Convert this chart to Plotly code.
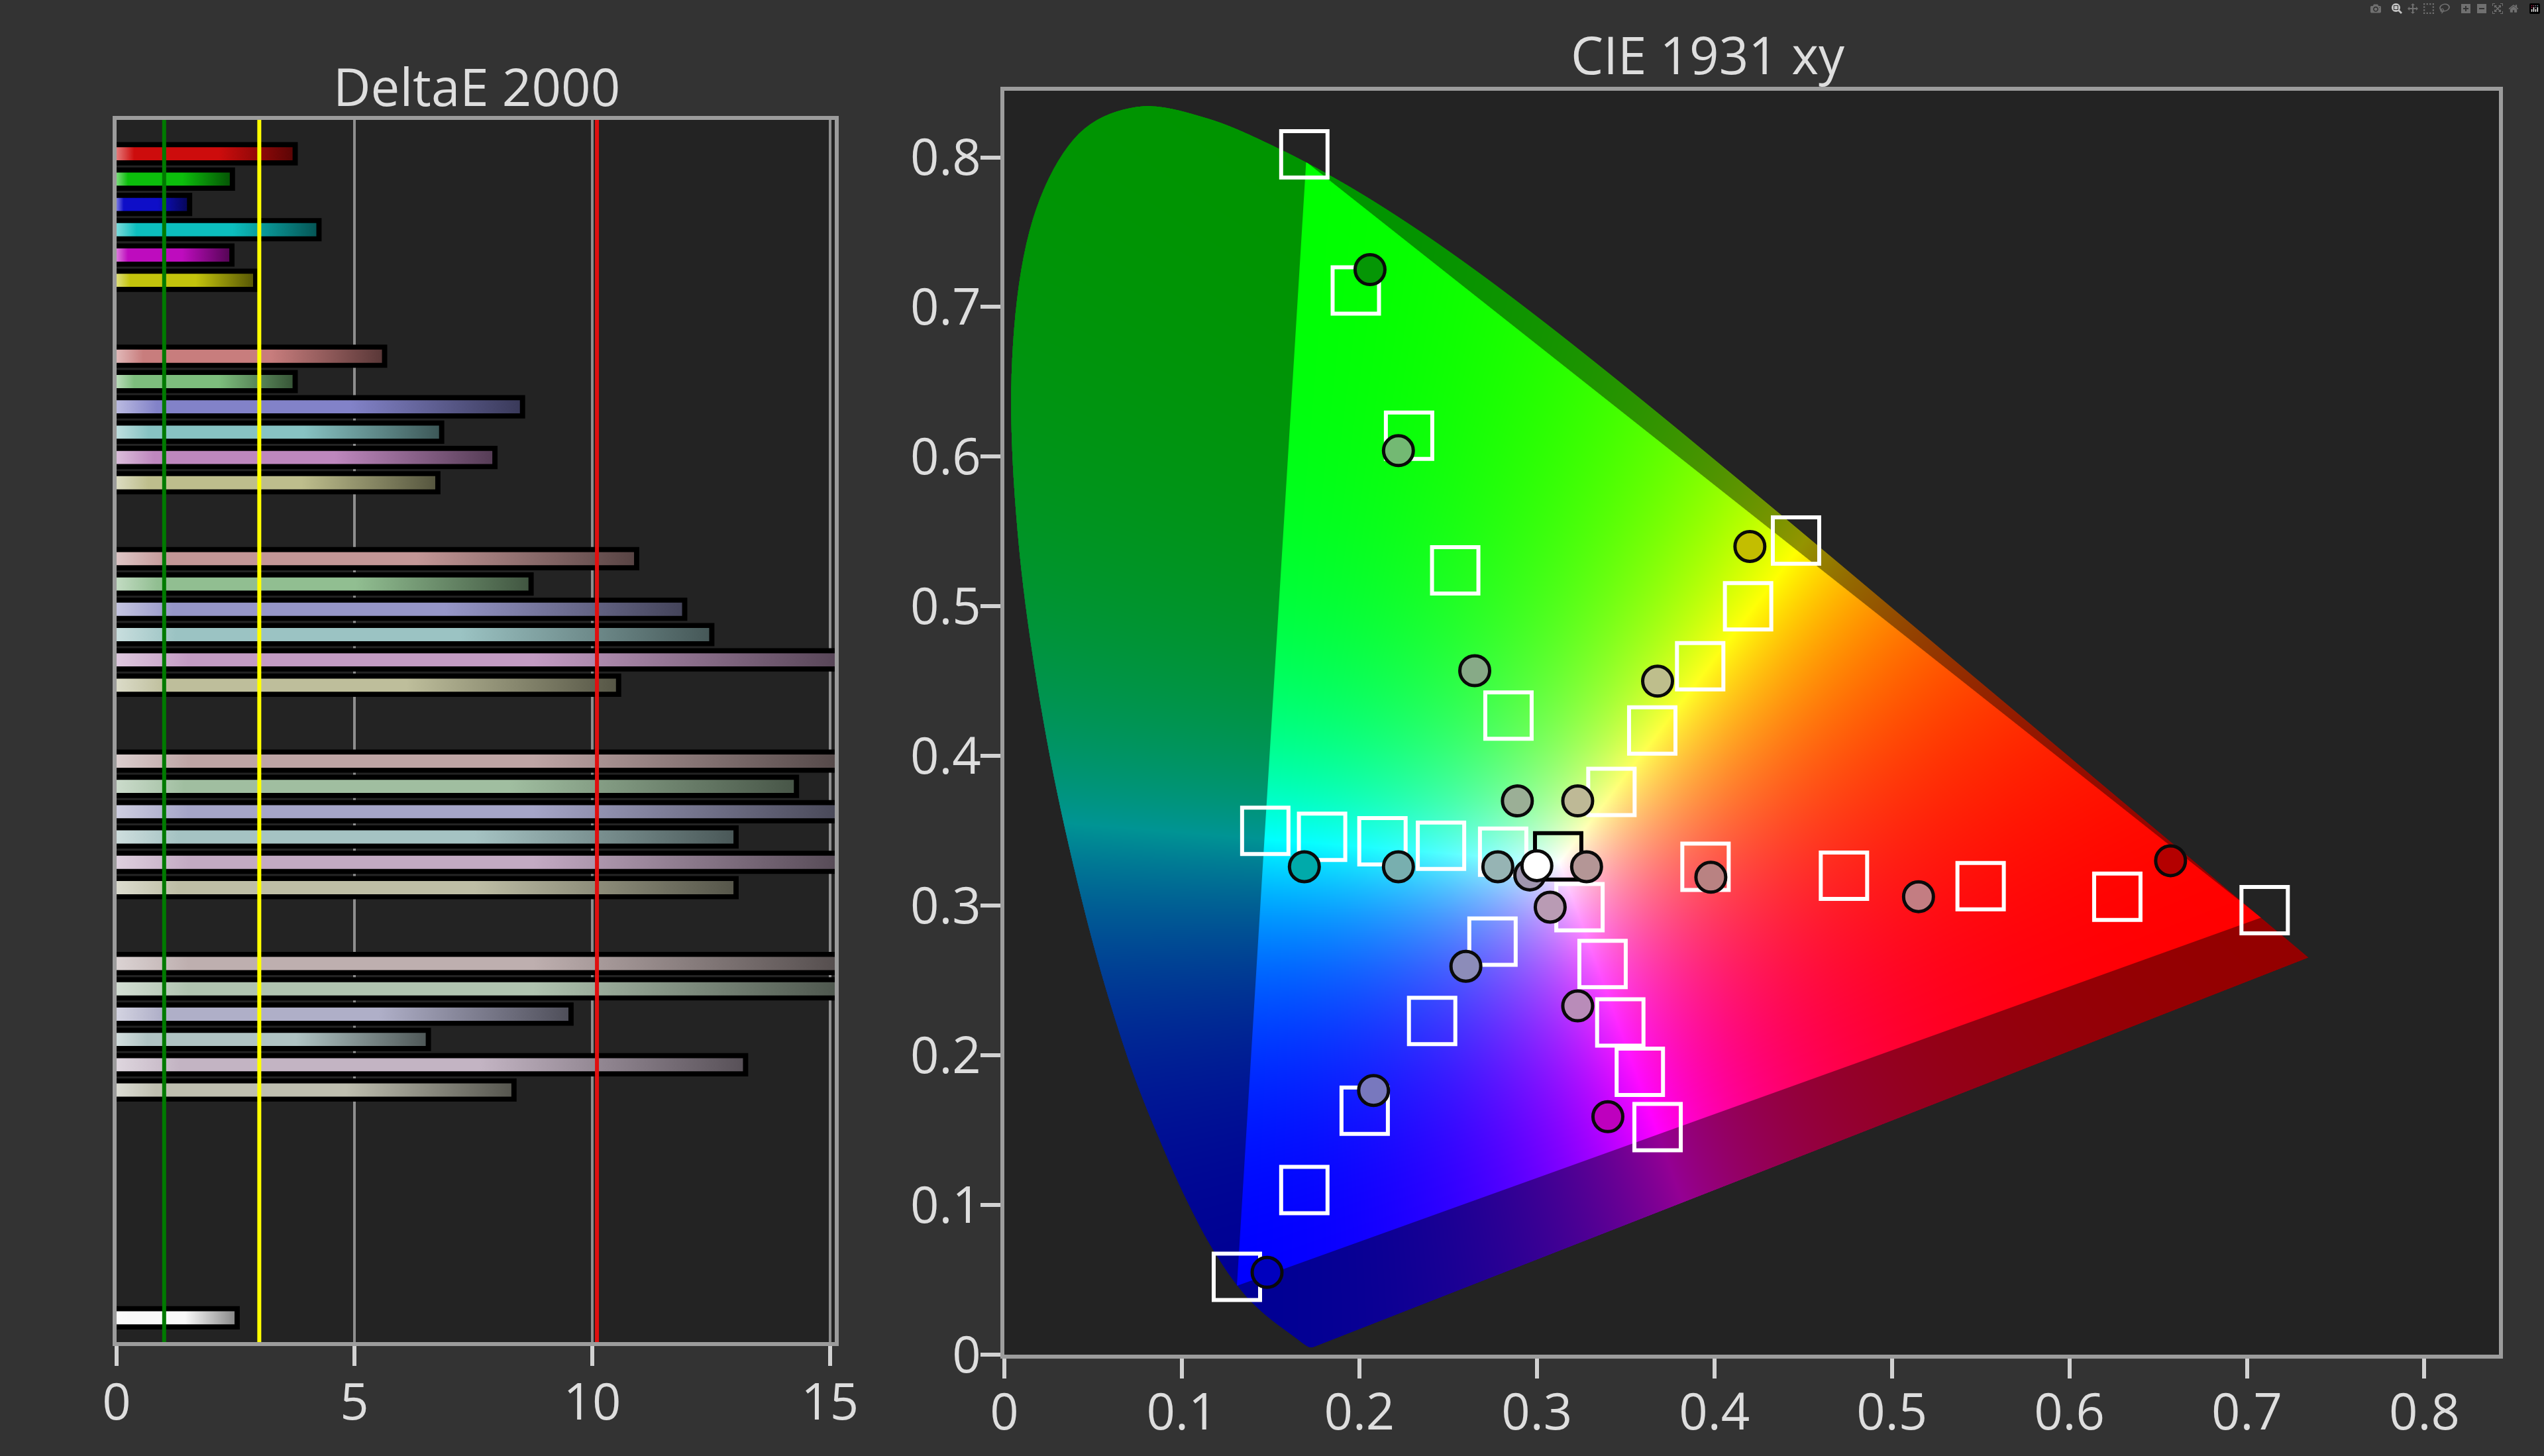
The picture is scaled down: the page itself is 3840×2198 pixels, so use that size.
import base64
import struct
import zlib

import numpy as np
import plotly.graph_objects as go

# ---------------------------------------------------------------- data
# DeltaE 2000 per patch (rows top to bottom), one list per saturation level
patch_names = ["Red", "Green", "Blue", "Cyan", "Magenta", "Yellow"]
saturation_levels = ["100%", "80%", "60%", "40%", "20%"]
de_100 = [3.70, 2.38, 1.48, 4.20, 2.37, 2.87]
de_80 = [5.58, 3.70, 8.48, 6.78, 7.90, 6.70]
de_60 = [10.88, 8.66, 11.89, 12.46, 16.2, 10.50]
de_40 = [16.4, 14.24, 16.6, 12.97, 16.8, 12.97]
de_20 = [16.9, 16.3, 9.50, 6.50, 13.17, 8.30]
de_white = 2.48
de_thresholds = [1.0, 3.0, 10.1]

# CIE 1931 spectral locus (380-700 nm)
locus_x = [0.1741, 0.1740, 0.1738, 0.1736, 0.1733, 0.1730, 0.1726, 0.1721, 0.1714,
           0.1703, 0.1689, 0.1669, 0.1644, 0.1611, 0.1566, 0.1510, 0.1440, 0.1355,
           0.1241, 0.1096, 0.0913, 0.0687, 0.0454, 0.0235, 0.0082, 0.0039, 0.0139,
           0.0389, 0.0743, 0.1142, 0.1547, 0.1929, 0.2296, 0.2658, 0.3016, 0.3373,
           0.3731, 0.4087, 0.4441, 0.4788, 0.5125, 0.5448, 0.5752, 0.6029, 0.6270,
           0.6482, 0.6658, 0.6801, 0.6915, 0.7006, 0.7079, 0.7140, 0.7190, 0.7230,
           0.7260, 0.7283, 0.7300, 0.7311, 0.7320, 0.7334, 0.7344, 0.7347]
locus_y = [0.0050, 0.0050, 0.0049, 0.0049, 0.0048, 0.0048, 0.0048, 0.0048, 0.0051,
           0.0058, 0.0069, 0.0086, 0.0109, 0.0138, 0.0177, 0.0227, 0.0297, 0.0399,
           0.0578, 0.0868, 0.1327, 0.2007, 0.2950, 0.4127, 0.5384, 0.6548, 0.7502,
           0.8120, 0.8338, 0.8262, 0.8059, 0.7816, 0.7543, 0.7243, 0.6923, 0.6589,
           0.6245, 0.5896, 0.5547, 0.5202, 0.4866, 0.4544, 0.4242, 0.3965, 0.3725,
           0.3514, 0.3340, 0.3197, 0.3083, 0.2993, 0.2920, 0.2859, 0.2809, 0.2770,
           0.2740, 0.2717, 0.2700, 0.2689, 0.2680, 0.2666, 0.2656, 0.2653]

# Rec.2020 target gamut
gamut_x = [0.708, 0.170, 0.131]
gamut_y = [0.292, 0.797, 0.046]

# saturation-sweep targets (R, G, B, C, M, Y; 100..20 %)
target_x = [0.710, 0.627, 0.550, 0.473, 0.395,
            0.169, 0.198, 0.228, 0.254, 0.284,
            0.131, 0.169, 0.203, 0.241, 0.275,
            0.147, 0.179, 0.213, 0.246, 0.281,
            0.368, 0.358, 0.347, 0.337, 0.324,
            0.446, 0.419, 0.392, 0.365, 0.342]
target_y = [0.297, 0.306, 0.313, 0.320, 0.326,
            0.802, 0.711, 0.614, 0.524, 0.427,
            0.052, 0.110, 0.163, 0.223, 0.276,
            0.350, 0.346, 0.343, 0.340, 0.336,
            0.152, 0.189, 0.222, 0.261, 0.299,
            0.544, 0.500, 0.460, 0.417, 0.376]
white_target_x = [0.312]
white_target_y = [0.333]

# measured points
meas_x = [0.206, 0.222, 0.265, 0.289, 0.420, 0.368, 0.323, 0.328, 0.398, 0.515,
          0.657, 0.169, 0.222, 0.278, 0.296, 0.3075, 0.323, 0.340, 0.260, 0.208,
          0.148, 0.300]
meas_y = [0.725, 0.604, 0.457, 0.370, 0.540, 0.450, 0.370, 0.326, 0.319, 0.306,
          0.330, 0.326, 0.326, 0.326, 0.3205, 0.299, 0.233, 0.159, 0.2595, 0.1765,
          0.055, 0.3267]
meas_colors = ["rgb(5,150,5)", "rgb(115,185,115)", "rgb(135,170,135)", "rgb(155,175,150)",
               "rgb(195,190,0)", "rgb(190,190,140)", "rgb(190,185,150)", "rgb(180,150,150)",
               "rgb(185,130,130)", "rgb(195,125,130)", "rgb(180,0,0)", "rgb(0,170,170)",
               "rgb(120,175,175)", "rgb(150,180,180)", "rgb(160,150,175)", "rgb(185,155,180)",
               "rgb(185,140,185)", "rgb(190,0,190)", "rgb(140,140,185)", "rgb(120,120,190)",
               "rgb(0,0,190)", "rgb(255,255,255)"]

# ---------------------------------------------------------------- styles
bar_mid = [
    [(205, 12, 12), (12, 190, 12), (14, 14, 200), (12, 190, 190), (190, 12, 190), (195, 195, 12)],
    [(200, 125, 125), (125, 190, 125), (130, 130, 200), (135, 195, 195), (190, 135, 190), (190, 190, 140)],
    [(195, 150, 150), (145, 190, 145), (150, 150, 200), (155, 195, 195), (195, 155, 195), (190, 190, 155)],
    [(190, 165, 165), (160, 190, 160), (165, 165, 200), (165, 195, 195), (195, 170, 195), (190, 190, 165)],
    [(190, 175, 175), (175, 195, 175), (175, 175, 200), (175, 195, 195), (195, 180, 195), (190, 190, 175)],
]
white_mid = (250, 250, 250)
threshold_colors = ["#007a00", "#ffff00", "#e01010"]

PAPER = "#333333"
PLOT = "#232323"
FRAME = "#9c9c9c"
TICKC = "#d2d2d2"
TEXTC = "#dedede"
FONT = "Open Sans"
W_PX, H_PX = 3840, 2198
X_MAX_DE = 15.1


def rgb(c):
    return "rgb(%d,%d,%d)" % tuple(int(round(v)) for v in c)


def grad_scale(mid, end_dark=0.45):
    light = [m + (255 - m) * 0.45 for m in mid]
    dark = [m * end_dark for m in mid]
    return [[0.0, rgb(light)], [0.1, rgb(mid)], [0.58, rgb(mid)], [1.0, rgb(dark)]]


# ---------------------------------------------------------------- bars
levels_values = [de_100, de_80, de_60, de_40, de_20]
rows = []  # (slot, value, mid colour)
for g, vals in enumerate(levels_values):
    for i, v in enumerate(vals):
        rows.append((8 * g + i, v, bar_mid[g][i]))
rows.append((46, de_white, white_mid))

fig = go.Figure()

fig.add_trace(go.Bar(
    orientation="h",
    x=[v + 0.11 for _, v, _ in rows],
    y=[s for s, _, _ in rows],
    width=0.92,
    marker=dict(color="#000000", line=dict(width=0)),
    xaxis="x", yaxis="y", showlegend=False, hoverinfo="skip",
))

HALF = 0.26
for (s, v, mid), name in zip(rows, [f"{p} {l}" for l in saturation_levels for p in patch_names] + ["White"]):
    fig.add_trace(go.Scatter(
        x=[0, v, v, 0, 0],
        y=[s - HALF, s - HALF, s + HALF, s + HALF, s - HALF],
        mode="lines", fill="toself",
        line=dict(width=0, color="rgba(0,0,0,0)"),
        fillgradient=dict(type="horizontal", colorscale=grad_scale(mid, 0.55 if mid == white_mid else 0.45),
                          start=0, stop=min(v, X_MAX_DE)),
        name=name, xaxis="x", yaxis="y", showlegend=False,
        hovertemplate=name + ": %{x:.2f}<extra></extra>",
    ))


# ---------------------------------------------------------------- CIE background image
def smooth_curve(xs, ys, n=10):
    """Catmull-Rom densification of the open locus curve (for a smooth rendered edge)."""
    P = np.column_stack([xs, ys])
    P = np.vstack([P[0], P, P[-1]])
    out = []
    t = np.linspace(0, 1, n, endpoint=False)[:, None]
    for i in range(1, len(P) - 2):
        p0, p1, p2, p3 = P[i - 1], P[i], P[i + 1], P[i + 2]
        seg = 0.5 * ((2 * p1) + (-p0 + p2) * t + (2 * p0 - 5 * p1 + 4 * p2 - p3) * t ** 2
                     + (-p0 + 3 * p1 - 3 * p2 + p3) * t ** 3)
        out.append(seg)
    out.append(P[-2][None, :])
    Q = np.vstack(out)
    return Q[:, 0], Q[:, 1]


IMG_X = 0.745
IMG_Y = 0.8445
IW, IH = 1996, 1908
px = ((np.arange(IW) + 0.5) * IMG_X / IW).astype(np.float64)
py = (IMG_Y - (np.arange(IH) + 0.5) * IMG_Y / IH).astype(np.float64)
dxp, dyp = IMG_X / IW, IMG_Y / IH
lx, ly = smooth_curve(np.array(locus_x), np.array(locus_y))
x1, y1 = lx, ly
x2, y2 = np.roll(lx, -1), np.roll(ly, -1)
with np.errstate(divide="ignore", invalid="ignore"):
    Yr = py[:, None]
    m = ((y1 <= Yr) & (Yr < y2)) | ((y2 <= Yr) & (Yr < y1))
    xc = x1 + (Yr - y1) * (x2 - x1) / (y2 - y1)
    xl = np.where(m, xc, np.inf).min(1)
    xr = np.where(m, xc, -np.inf).max(1)
    Xc = px[:, None]
    m2 = ((x1 <= Xc) & (Xc < x2)) | ((x2 <= Xc) & (Xc < x1))
    yc = y1 + (Xc - x1) * (y2 - y1) / (x2 - x1)
    yb = np.where(m2, yc, np.inf).min(1)
    yt = np.where(m2, yc, -np.inf).max(1)
    covx = np.clip((px[None, :] - xl[:, None]) / dxp + 0.5, 0, 1) * \
        np.clip((xr[:, None] - px[None, :]) / dxp + 0.5, 0, 1)
    covy = np.clip((py[:, None] - yb[None, :]) / dyp + 0.5, 0, 1) * \
        np.clip((yt[None, :] - py[:, None]) / dyp + 0.5, 0, 1)
alpha = np.minimum(covx, covy).astype(np.float32)

XX, YY = np.meshgrid(px.astype(np.float32), py.astype(np.float32))
YYs = np.maximum(YY, 1e-3)
Xt = XX / YYs
Zt = (1.0 - XX - YY) / YYs
M = np.array([[1.7166512, -0.3556708, -0.2533663],
              [-0.6666844, 1.6164812, 0.0157685],
              [0.0176399, -0.0427706, 0.9421031]], dtype=np.float32)
img = np.empty((IH, IW, 3), dtype=np.float32)
for k in range(3):
    img[..., k] = M[k, 0] * Xt + M[k, 1] + M[k, 2] * Zt
np.clip(img, 0, None, out=img)
mx = np.maximum(img.max(-1, keepdims=True), 1e-6)
img /= mx
img **= 1.7

# darken outside the Rec.2020 triangle (smooth edge, pixel units)
U = XX / dxp
V = YY / dyp
gu = np.array(gamut_x) / dxp
gv = np.array(gamut_y) / dyp
dmin = np.full(U.shape, np.inf, dtype=np.float32)
for a in range(3):
    b, c = (a + 1) % 3, (a + 2) % 3
    ex, ey = gu[b] - gu[a], gv[b] - gv[a]
    ln = np.hypot(ex, ey)
    sgn = np.sign(ex * (gv[c] - gv[a]) - ey * (gu[c] - gu[a]))
    d = sgn * (ex * (V - gv[a]) - ey * (U - gu[a])) / ln
    dmin = np.minimum(dmin, d)
DARK = 0.58
fac = DARK + (1 - DARK) * np.clip(dmin + 0.5, 0, 1)
img *= fac[..., None]

rgba = np.empty((IH, IW, 4), dtype=np.uint8)
rgba[..., :3] = np.clip(np.round(img * 255), 0, 255).astype(np.uint8)
rgba[..., 3] = np.clip(np.round(alpha * 255), 0, 255).astype(np.uint8)


def png_uri(a):
    h, w, _ = a.shape
    flat = a.reshape(h, w * 4).astype(np.int16)
    sub = flat.copy()
    sub[:, 4:] = flat[:, 4:] - flat[:, :-4]
    sub = (sub % 256).astype(np.uint8)
    raw = np.hstack([np.ones((h, 1), np.uint8), sub]).tobytes()

    def chunk(t, d):
        return struct.pack(">I", len(d)) + t + d + struct.pack(">I", zlib.crc32(t + d) & 0xFFFFFFFF)

    data = (b"\x89PNG\r\n\x1a\n" + chunk(b"IHDR", struct.pack(">IIBBBBB", w, h, 8, 6, 0, 0, 0))
            + chunk(b"IDAT", zlib.compress(raw, 6)) + chunk(b"IEND", b""))
    return "data:image/png;base64," + base64.b64encode(data).decode("ascii")


fig.add_layout_image(dict(
    source=png_uri(rgba), xref="x2", yref="y2", x=0, y=IMG_Y,
    sizex=IMG_X, sizey=IMG_Y, sizing="stretch", xanchor="left", yanchor="top",
    layer="below",
))

# ---------------------------------------------------------------- CIE markers
fig.add_trace(go.Scatter(
    x=target_x, y=target_y, mode="markers", xaxis="x2", yaxis="y2",
    marker=dict(symbol="square-open", size=70, color="#ffffff", line=dict(width=6, color="#ffffff")),
    showlegend=False, name="Target",
))
fig.add_trace(go.Scatter(
    x=white_target_x, y=white_target_y, mode="markers", xaxis="x2", yaxis="y2",
    marker=dict(symbol="square-open", size=70, color="#000000", line=dict(width=6, color="#000000")),
    showlegend=False, name="White target",
))
fig.add_trace(go.Scatter(
    x=meas_x, y=meas_y, mode="markers", xaxis="x2", yaxis="y2",
    marker=dict(symbol="circle", size=45, color=meas_colors, line=dict(width=5, color="#0a0a0a")),
    showlegend=False, name="Measured",
))

# ---------------------------------------------------------------- layout
tickfont = dict(family=FONT, size=76, color=TEXTC)
common = dict(showline=True, linecolor=FRAME, linewidth=6, mirror=True, zeroline=False,
              automargin=False)

fig.update_layout(
    width=W_PX, height=H_PX, autosize=False,
    margin=dict(l=0, r=0, t=0, b=0, pad=0),
    paper_bgcolor=PAPER, plot_bgcolor=PLOT,
    font=dict(family=FONT, color=TEXTC),
    showlegend=False,
    xaxis=dict(domain=[176 / W_PX, 1260 / W_PX], range=[0, X_MAX_DE], tickvals=[0, 5, 10, 15],
               ticktext=["0", "5", "10", "15"], ticks="outside", ticklen=30, tickwidth=6,
               tickcolor=TICKC, tickfont=tickfont, showgrid=True, gridcolor="#8e8e8e", gridwidth=4,
               ticklabelstandoff=-10, anchor="y", **common),
    yaxis=dict(domain=[1 - 2026 / H_PX, 1 - 181 / H_PX], range=[46.96, -1.34],
               showticklabels=False, ticks="", showgrid=False, anchor="x", **common),
    xaxis2=dict(domain=[1516 / W_PX, 3772 / W_PX], range=[0, 0.842],
                tickvals=[0, 0.1, 0.2, 0.3, 0.4, 0.5, 0.6, 0.7, 0.8],
                ticktext=["0", "0.1", "0.2", "0.3", "0.4", "0.5", "0.6", "0.7", "0.8"],
                ticks="outside", ticklen=30, tickwidth=6, tickcolor=TICKC, tickfont=tickfont,
                ticklabelstandoff=-14, showgrid=False, anchor="y2", **common),
    yaxis2=dict(domain=[1 - 2045 / H_PX, 1 - 137 / H_PX], range=[0, 0.8445],
                tickvals=[0, 0.1, 0.2, 0.3, 0.4, 0.5, 0.6, 0.7, 0.8],
                ticktext=["0", "0.1", "0.2", "0.3", "0.4", "0.5", "0.6", "0.7", "0.8"],
                ticks="outside", ticklen=30, tickwidth=6, tickcolor=TICKC, tickfont=tickfont,
                ticklabelstandoff=-16, showgrid=False, anchor="x2", **common),
    annotations=[
        dict(text="DeltaE 2000", x=719.5 / W_PX, y=1 - 129.5 / H_PX, xref="paper", yref="paper",
             xanchor="center", yanchor="middle", showarrow=False,
             font=dict(family=FONT, size=78, color=TEXTC)),
        dict(text="CIE 1931 xy", x=2578 / W_PX, y=1 - 82 / H_PX, xref="paper", yref="paper",
             xanchor="center", yanchor="middle", showarrow=False,
             font=dict(family=FONT, size=78, color=TEXTC)),
    ],
    shapes=[dict(type="line", xref="x", yref="y domain", x0=t, x1=t, y0=0, y1=1,
                 line=dict(color=c, width=6), layer="above")
            for t, c in zip(de_thresholds, threshold_colors)],
)

fig.write_html("out.html", post_script="document.body.style.margin='0';document.body.style.overflow='hidden';")
